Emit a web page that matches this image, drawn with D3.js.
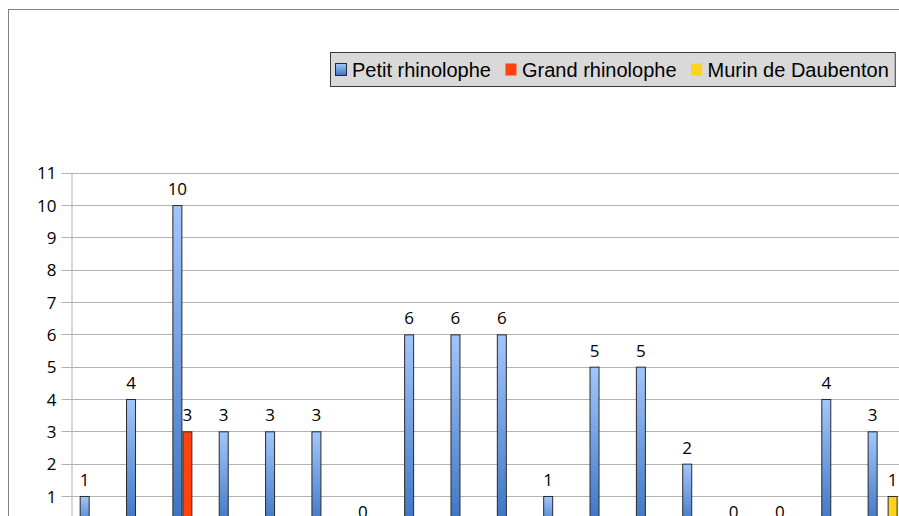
<!DOCTYPE html>
<html>
<head>
<meta charset="utf-8">
<script src="https://cdn.jsdelivr.net/npm/d3@7"></script>
<style>
  body { margin: 0; background: #fff; overflow: hidden; }
</style>
</head>
<body>
<div class="chart"></div>
<script>
// data (the x labels are cropped away in the reference)
const categories = ["1", "2", "3", "4", "5", "6", "7", "8", "9", "10", "11", "12", "13", "14", "15", "16", "17", "18"]
const petitRhinolophe = [1, 4, 10, 3, 3, 3, 0, 6, 6, 6, 1, 5, 5, 2, 0, 0, 4, 3]
const grandRhinolophe = [null, null, 3, null, null, null, null, null, null, null, null, null, null, null, null, null, null, null]
const murinDaubenton = [null, null, null, null, null, null, null, null, null, null, null, null, null, null, null, null, null, 1]
const seriesNames = ["Petit rhinolophe", "Grand rhinolophe", "Murin de Daubenton"]
const yTicks = [1, 2, 3, 4, 5, 6, 7, 8, 9, 10, 11]

const width = 899, height = 516
const colors = ["url(#blueGrad)", "#ff420e", "#ffd320"]

const svg = d3.select(".chart")
    .append("svg")
    .attr("width", width)
    .attr("height", height)

const defs = svg.append("defs")
const grad = defs.append("linearGradient")
    .attr("id", "blueGrad")
    .attr("x1", 0).attr("y1", 0).attr("x2", 0).attr("y2", 1)
grad.append("stop").attr("offset", "0%").attr("stop-color", "#a2c6fc")
grad.append("stop").attr("offset", "100%").attr("stop-color", "#3a72c2")

// outer chart frame
svg.append("rect")
    .attr("x", 8.5).attr("y", 9.5)
    .attr("width", 1000).attr("height", 1000)
    .attr("fill", "none")
    .attr("stroke", "#808080")

const plotLeft = 71.5, step = 46.35
const xScale = d3.scaleBand()
    .domain(categories)
    .range([plotLeft, plotLeft + step * categories.length])

const xInner = d3.scaleBand()
    .domain(seriesNames)
    .range([0, xScale.bandwidth()])
    .paddingOuter(0.8175)

const yScale = d3.scaleLinear()
    .domain([0, 11])
    .range([528.3, 172.7])

// gridlines
svg.append("g")
    .selectAll("line")
    .data(yTicks)
    .join("line")
    .attr("x1", plotLeft - 10)
    .attr("x2", width)
    .attr("y1", d => Math.round(yScale(d)) + 0.5)
    .attr("y2", d => Math.round(yScale(d)) + 0.5)
    .attr("stroke", "#b3b3b3")

// y axis
const yAxis = d3.axisLeft(yScale)
    .tickValues(yTicks)
    .tickSize(0)
    .tickPadding(15)
const yAxisGroup = svg.append("g")
    .attr("transform", `translate(${plotLeft},0)`)
    .call(yAxis)
yAxisGroup.select(".domain").remove()
yAxisGroup.selectAll("text")
    .attr("font-family", "Open Sans")
    .attr("font-size", 17)
    .attr("fill", "#000")
    .attr("dy", "0.36em")

svg.append("line")
    .attr("x1", plotLeft + 0.5).attr("x2", plotLeft + 0.5)
    .attr("y1", yScale(11)).attr("y2", height)
    .attr("stroke", "#b3b3b3")

const allSeries = [petitRhinolophe, grandRhinolophe, murinDaubenton]
const barData = []
allSeries.forEach((vals, s) => {
    vals.forEach((v, i) => {
        if (v != null) barData.push({ cat: categories[i], key: seriesNames[s], s, value: v })
    })
})

svg.append("g")
    .selectAll("rect")
    .data(barData.filter(d => d.value > 0))
    .join("rect")
    .attr("x", d => xScale(d.cat) + xInner(d.key) + 0.5)
    .attr("y", d => yScale(d.value) + 0.5)
    .attr("width", xInner.bandwidth() - 1)
    .attr("height", d => yScale(0) - yScale(d.value))
    .attr("fill", d => colors[d.s])
    .attr("stroke", "#2a2a2a")
    .attr("stroke-width", 1)

// value labels
svg.append("g")
    .selectAll("text")
    .data(barData)
    .join("text")
    .attr("x", d => xScale(d.cat) + xInner(d.key) + xInner.bandwidth() / 2)
    .attr("y", d => yScale(d.value) - 10)
    .attr("text-anchor", "middle")
    .attr("font-family", "Open Sans")
    .attr("font-size", 17)
    .attr("fill", "#000")
    .text(d => d.value)

// legend
const legend = svg.append("g")
const legendBox = legend.append("rect")
    .attr("x", 330.5).attr("y", 52.5)
    .attr("height", 34)
    .attr("fill", "#d9d9d9")
    .attr("stroke", "#3a3a3a")

let lx = 335
seriesNames.forEach((name, i) => {
    legend.append("rect")
        .attr("x", lx + 0.5).attr("y", 63.5)
        .attr("width", 11).attr("height", 12)
        .attr("fill", colors[i])
        .attr("stroke", i === 0 ? "#2a2a2a" : "none")
    const t = legend.append("text")
        .attr("x", lx + 17)
        .attr("y", 77)
        .attr("font-family", "Liberation Sans")
        .attr("font-size", 20)
        .attr("fill", "#000")
        .text(name)
    lx += 17 + t.node().getComputedTextLength() + 14
})
legendBox.attr("width", lx - 14 + 6 - 330)
</script>
</body>
</html>
